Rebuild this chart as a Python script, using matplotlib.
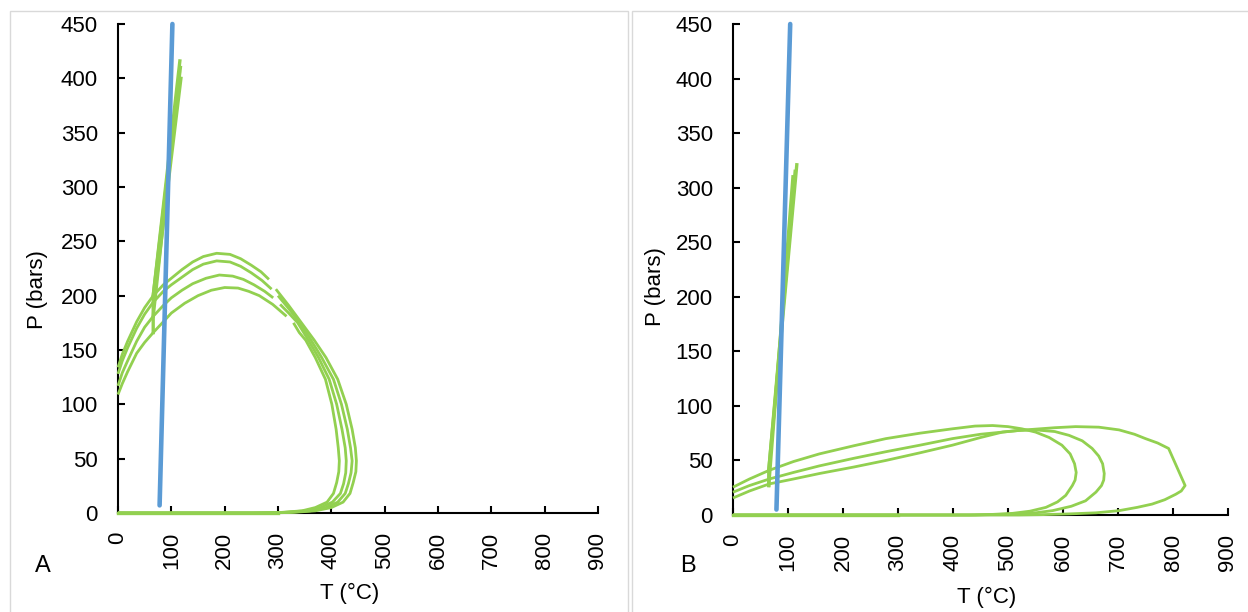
import matplotlib.pyplot as plt
import matplotlib.patches as patches
import numpy as np

plt.rcParams['font.family'] = ['Liberation Sans', 'DejaVu Sans']

BLUE = '#5B9BD5'
GREEN = '#92D050'

# ---- panel A data ----
# blue line
a_blue_T = [78, 102]
a_blue_P = [7, 450]

# steep green lines
a_steep = [
    ([66, 116], [200, 416]),
    ([67, 118], [194, 400]),
    ([66, 115], [181, 405]),
    ([66, 66, 117], [166, 200, 410]),
]

# phase envelopes (nan = gap)
a_env_T = [
    [0, 8, 18, 35, 50, 66, 85, 100, 120, 140, 160, 185, 210, 230, 250, 268, 283, np.nan,
     296, 320, 344, 368, 390, 412, 428, 439, 445, 447, 446, 441, 435, 422, 400, 370, 330, 290, 250, 0],
    [0, 8, 18, 35, 50, 66, 85, 100, 120, 140, 160, 185, 210, 230, 250, 270, 288, np.nan,
     300, 322, 341, 362, 382, 404, 419, 430, 436, 439, 437, 432, 426, 412, 390, 360, 320, 280, 250, 0],
    [0, 8, 18, 35, 50, 66, 85, 100, 120, 140, 165, 190, 215, 235, 255, 275, 291, np.nan,
     304, 322, 337, 357, 376, 396, 410, 420, 426, 428, 427, 423, 417, 402, 380, 350, 310, 270, 250, 0],
    [0, 8, 18, 35, 50, 66, 85, 100, 125, 150, 175, 200, 225, 245, 265, 290, 316, np.nan,
     329, 340, 352, 370, 389, 401, 409, 413, 415, 414, 410, 404, 392, 370, 345, 305, 270, 250, 0],
]
a_env_P = [
    [134, 146, 158, 176, 189, 200, 210, 216, 224, 231, 236, 239, 238, 234, 228, 222, 215, np.nan,
     206, 191, 175, 159, 143, 123, 100, 77, 60, 48, 38, 28, 18, 10, 5, 2, 0.6, 0.1, 0, 0],
    [128, 140, 152, 170, 183, 194, 204, 210, 217, 224, 229, 232, 231, 227, 221, 214, 206, np.nan,
     200, 187, 175, 159, 143, 123, 100, 77, 60, 48, 37, 27, 18, 10, 5, 2, 0.6, 0.1, 0, 0],
    [117, 129, 140, 158, 171, 181, 191, 198, 205, 211, 216, 219, 218, 215, 210, 204, 198, np.nan,
     192, 183, 175, 159, 143, 123, 100, 77, 60, 48, 37, 27, 18, 10, 5, 2, 0.5, 0.1, 0, 0],
    [109, 119, 130, 147, 157, 166, 176, 184, 193, 200, 205, 207.5, 207, 204, 200, 192, 181, np.nan,
     175, 166, 159, 143, 123, 100, 77, 60, 48, 38, 28, 18, 10, 5, 2, 0.5, 0.1, 0, 0],
]

# ---- panel B data ----
b_blue_T = [79, 104]
b_blue_P = [5, 450]

b_steep = [
    ([65, 116], [41, 321]),
    ([65, 109], [27, 310]),
    ([65, 65, 113], [27, 41, 315]),
]

b_env_T = [
    [0, 30, 66, 110, 157, 220, 278, 340, 399, 440, 472, 500, 525, 550, 575, 598, 613, 621, 624, 622, 617,
     605, 590, 569, 540, 508, 470, 430, 0],
    [0, 30, 66, 110, 157, 220, 278, 340, 399, 450, 490, 520, 550, 585, 611, 635, 653, 665, 672, 675, 674, 670,
     660, 641, 615, 581, 550, 520, 440, 0],
    [0, 30, 66, 110, 157, 220, 278, 340, 399, 450, 490, 520, 545, 585, 623, 665, 702, 730, 750, 772, 792,
     822, 815, 805, 785, 762, 735, 702, 660, 611, 560, 520, 0],
]
b_env_P = [
    [25.5, 33, 41, 49, 56, 63.5, 70, 75, 79, 81.5, 82, 81, 79, 76, 71, 64, 56, 47, 39, 32, 27,
     18, 12, 7, 3.5, 1.5, 0.5, 0, 0],
    [20.9, 27, 33, 39, 45, 52, 58, 64, 70, 74, 76, 77.5, 78, 76.5, 73, 68, 61, 54, 47, 38, 32, 27,
     21, 13, 8, 4, 2, 1, 0, 0],
    [15.6, 22, 28.5, 33, 38, 44, 50, 57, 64, 71, 76, 77.5, 78.5, 80, 81, 80.5, 78, 74, 70, 66, 61,
     27, 22, 19, 14, 10, 7, 4, 2, 1, 0.3, 0, 0],
]

x_ticks = list(range(0, 901, 100))
y_ticks = list(range(0, 451, 50))

W, H = 1248, 612
fig = plt.figure(figsize=(W / 100, H / 100), dpi=100)

# panel borders
fig.add_artist(patches.Rectangle((10 / W, -0.02), 618 / W, 1.02 - 11 / H, transform=fig.transFigure,
                                 fill=False, edgecolor='#D9D9D9', linewidth=1))
fig.add_artist(patches.Rectangle((632 / W, -0.02), 0.6, 1.02 - 11 / H, transform=fig.transFigure,
                                 fill=False, edgecolor='#D9D9D9', linewidth=1))


def style_axes(ax):
    ax.set_xlim(0, 900)
    ax.set_ylim(0, 450)
    ax.set_xticks(x_ticks)
    ax.set_yticks(y_ticks)
    ax.set_xticklabels([str(t) for t in x_ticks], rotation=90)
    for s in ['top', 'right']:
        ax.spines[s].set_visible(False)
    for s in ['left', 'bottom']:
        ax.spines[s].set_linewidth(1.5)
        ax.spines[s].set_color('black')
    ax.tick_params(axis='both', direction='in', length=5, width=1.5, labelsize=16, colors='black')
    ax.tick_params(axis='y', pad=14.5)
    ax.tick_params(axis='x', pad=13.5)


def draw(ax, blue_T, blue_P, steep, env_T, env_P):
    for T, P in zip(env_T, env_P):
        ax.plot(T, P, color=GREEN, lw=2.0, clip_on=False, zorder=3, solid_capstyle='butt')
    for T, P in steep:
        ax.plot(T, P, color=GREEN, lw=2.4, clip_on=False, zorder=3)
    ax.plot(blue_T, blue_P, color=BLUE, lw=3.3, clip_on=False, zorder=4, solid_capstyle='round')
    ax.plot([0, 300], [0, 0], color=GREEN, lw=2.4, clip_on=False, zorder=3)


axA = fig.add_axes([118 / W, 1 - 513 / H, 480 / W, 489 / H])
style_axes(axA)
draw(axA, a_blue_T, a_blue_P, a_steep, a_env_T, a_env_P)

axB = fig.add_axes([733 / W, 1 - 515 / H, 495 / W, 491 / H])
style_axes(axB)
draw(axB, b_blue_T, b_blue_P, b_steep, b_env_T, b_env_P)

# labels
fig.text(37 / W, 1 - 290 / H, 'P (bars)', rotation=90, ha='center', va='center', fontsize=16)
fig.text(350 / W, 1 - 593 / H, 'T (°C)', ha='center', va='center', fontsize=16)
fig.text(43 / W, 1 - 566 / H, 'A', ha='center', va='center', fontsize=17)
fig.text(655 / W, 1 - 287 / H, 'P (bars)', rotation=90, ha='center', va='center', fontsize=16)
fig.text(987 / W, 1 - 597 / H, 'T (°C)', ha='center', va='center', fontsize=16)
fig.text(688 / W, 1 - 566 / H, 'B', ha='center', va='center', fontsize=17)

fig.savefig('out.png', dpi=100)
